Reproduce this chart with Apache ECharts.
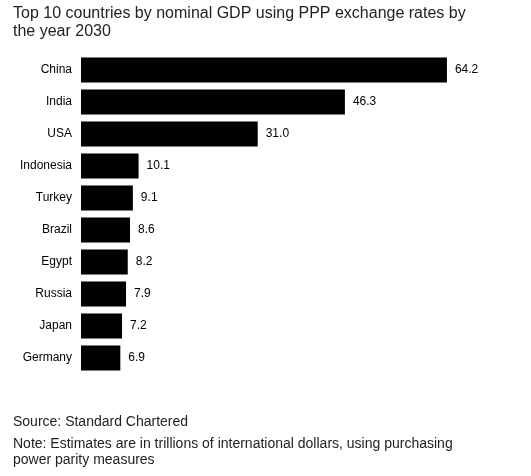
<!DOCTYPE html>
<html><head><meta charset="utf-8">
<script src="https://cdn.jsdelivr.net/npm/echarts@6/dist/echarts.min.js"></script>
<style>html,body{margin:0;padding:0;background:#fff}#c{width:531px;height:476px}</style>
</head><body><div id="c"></div>
<script>
var countries = ["China","India","USA","Indonesia","Turkey","Brazil","Egypt","Russia","Japan","Germany"];
var gdp = [64.2,46.3,31.0,10.1,9.1,8.6,8.2,7.9,7.2,6.9];
var chart = echarts.init(document.getElementById('c'));
var F = 'Liberation Sans, Arial, sans-serif';
chart.setOption({
  backgroundColor:'#fff',
  animation:false,
  title:[
    {text:'Top 10 countries by nominal GDP using PPP exchange rates by\nthe year 2030',left:8,top:0,
     textStyle:{fontFamily:F,fontSize:16,fontWeight:'normal',color:'#222',lineHeight:18}},
    {text:'Source: Standard Chartered',left:8,top:410,
     textStyle:{fontFamily:F,fontSize:14,fontWeight:'normal',color:'#222'}},
    {text:'Note: Estimates are in trillions of international dollars, using purchasing\npower parity measures',left:8,top:431,
     textStyle:{fontFamily:F,fontSize:14,fontWeight:'normal',color:'#222',lineHeight:16}}
  ],
  grid:{left:81,top:54,width:399,height:320,containLabel:false},
  xAxis:{type:'value',min:0,max:70,show:false},
  yAxis:{type:'category',inverse:true,data:countries,
    axisLine:{show:false},axisTick:{show:false},
    axisLabel:{margin:9,fontFamily:F,fontSize:12,color:'#000'}},
  series:[{type:'bar',data:gdp,barCategoryGap:'22%',
    itemStyle:{color:'#000'},
    label:{show:true,position:'right',distance:8,fontFamily:F,fontSize:12,color:'#000',
      formatter:function(p){return p.value.toFixed(1);}}}]
});
</script></body></html>
